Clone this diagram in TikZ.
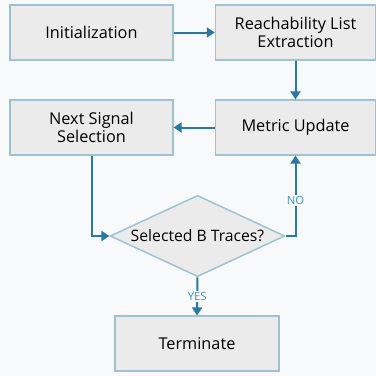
\documentclass[tikz,border=0pt]{standalone}
\usepackage{fontspec}
\setmainfont{Open Sans}
\usepackage{xcolor}
\usetikzlibrary{arrows.meta,shapes.geometric,shadows}

\definecolor{flowblue}{HTML}{2479A8}
\definecolor{labelblue}{HTML}{3A98C6}
\definecolor{boxedge}{HTML}{9DC2D1}
\definecolor{boxfill}{HTML}{EBEBEB}
\definecolor{pagebg}{HTML}{F8F9FB}

\begin{document}
\begin{tikzpicture}[x=0.75pt,y=-0.75pt,>={Triangle[width=7.5pt,length=6pt]},
  box/.style={draw=boxedge,fill=boxfill,line width=1.1pt,minimum height=41pt,
    align=center,font=\fontsize{12.2}{14}\selectfont,text=black,
    drop shadow={opacity=0.15,shadow xshift=0.8pt,shadow yshift=-0.8pt}},
  decision/.style={diamond,draw=boxedge,fill=boxfill,line width=1.1pt,inner sep=0pt,
    minimum width=131pt,minimum height=61pt,font=\fontsize{11.8}{14}\selectfont,text=black},
  flow/.style={->,draw=flowblue,line width=1.5pt},
  answer/.style={font=\fontsize{8.5}{10}\selectfont,text=labelblue,fill=pagebg,inner sep=1pt}]
  \fill[pagebg] (0,0) rectangle (376,376);
  \useasboundingbox (0,0) rectangle (376,376);
  % blocks
  \node[box,minimum width=122pt] (init) at (91.5,32.5) {Initialization};
  \node[box,minimum width=120pt] (reach) at (295.5,32.5) {Reachability List\\Extraction};
  \node[box,minimum width=122pt] (next) at (91.5,127.5) {Next Signal\\Selection};
  \node[box,minimum width=120pt] (metric) at (295.5,127.5) {Metric Update};
  \node[decision] (check) at (197.5,236) {\makebox[0pt]{Selected B Traces?}};
  \node[box,minimum width=123pt] (stop) at (197,343.5) {Terminate};
  % connectors
  \draw[flow] (init) -- (reach);
  \draw[flow] (reach) -- (metric);
  \draw[flow] (metric) -- (next);
  \draw[flow] (next.south) |- (check.west);
  \draw[flow] (check.east) -| (metric.south) node[answer,pos=0.72] {NO};
  \draw[flow] (check.south) -- (stop.north) node[answer,midway] {YES};
\end{tikzpicture}
\end{document}
